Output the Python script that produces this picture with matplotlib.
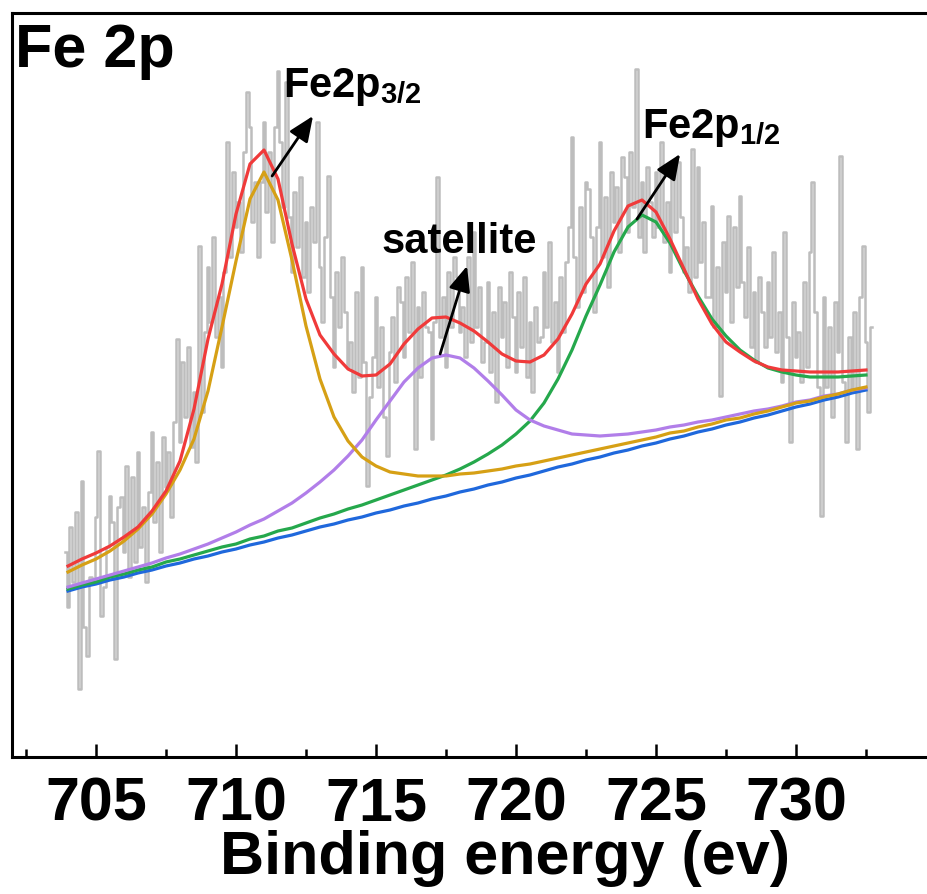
import numpy as np
import matplotlib
matplotlib.use('Agg')
import matplotlib.pyplot as plt
from matplotlib.ticker import FixedLocator

plt.rcParams['font.family'] = ['Liberation Sans', 'DejaVu Sans']
plt.rcParams['font.weight'] = 'bold'
plt.rcParams['mathtext.fontset'] = 'custom'
plt.rcParams['mathtext.rm'] = 'Liberation Sans:bold'
plt.rcParams['mathtext.it'] = 'Liberation Sans:bold'
plt.rcParams['mathtext.bf'] = 'Liberation Sans:bold'

# spektrum mentah (a.u.), langkah 0.1 eV mulai 703.9 eV
e_raw = np.round(703.9 + 0.1 * np.arange(289), 2)
raw = [205, 150, 230, 175, 245, 68, 276, 130, 101, 180,
       175, 240, 306, 141, 170, 210, 261, 235, 98, 250,
       260, 205, 291, 180, 280, 195, 305, 210, 250, 175,
       265, 325, 235, 295, 205, 320, 270, 305, 240, 335,
       418, 315, 395, 340, 410, 310, 365, 295, 511, 345,
       425, 490, 435, 520, 420, 460, 390, 485, 615, 500,
       585, 530, 555, 505, 605, 665, 630, 535, 575, 500,
       575, 635, 545, 605, 515, 630, 686, 615, 550, 675,
       540, 485, 565, 510, 580, 480, 535, 465, 550, 515,
       635, 490, 435, 520, 581, 460, 390, 485, 430, 500,
       445, 390, 415, 365, 465, 380, 490, 395, 271, 360,
       400, 460, 370, 430, 340, 301, 405, 440, 375, 470,
       455, 400, 480, 425, 495, 308, 450, 380, 465, 430,
       425, 318, 435, 580, 420, 460, 390, 485, 430, 500,
       480, 425, 450, 400, 500, 415, 525, 430, 470, 395,
       415, 475, 385, 445, 355, 470, 420, 455, 390, 485,
       440, 385, 465, 410, 480, 380, 435, 365, 450, 415,
       420, 485, 430, 515, 415, 455, 385, 480, 425, 495,
       530, 620, 500, 450, 550, 465, 575, 568, 520, 445,
       530, 615, 500, 560, 470, 585, 535, 570, 505, 600,
       580, 525, 605, 550, 688, 520, 575, 505, 590, 555,
       520, 585, 530, 615, 515, 555, 485, 580, 525, 595,
       540, 485, 510, 465, 608, 480, 590, 495, 535, 460,
       460, 551, 430, 490, 361, 515, 465, 541, 435, 530,
       470, 561, 475, 440, 510, 410, 465, 395, 480, 445,
       410, 475, 420, 505, 405, 445, 375, 525, 420, 315,
       455, 400, 425, 375, 475, 390, 505, 575, 445, 370,
       241, 460, 370, 430, 340, 455, 405, 601, 375, 315,
       420, 365, 445, 308, 460, 511, 415, 345, 430]

# hasil fitting, langkah 0.5 eV dari 704 sampai 732.5 eV
e_fit = np.arange(704.0, 732.51, 0.5)
background = np.array([166, 170, 173, 177, 180, 184, 187, 191, 194, 198,
                       201, 205, 208, 212, 215, 219, 222, 226, 230, 233,
                       237, 240, 244, 247, 251, 254, 258, 261, 265, 268,
                       272, 275, 279, 282, 286, 290, 293, 297, 300, 304,
                       307, 311, 314, 318, 321, 325, 328, 332, 335, 339,
                       342, 346, 350, 353, 357, 360, 364, 367])
# tinggi tiap komponen di atas background
p_32 = np.array([19, 22, 25, 29, 36, 44, 56, 72, 93, 120,
                 165, 225, 288, 346, 370, 338, 275, 205, 148, 107,
                 79, 60, 47, 38, 32, 27, 23, 20, 18, 16,
                 14, 13, 12, 11, 10, 9, 9, 8, 8, 7,
                 7, 6, 6, 6, 5, 5, 5, 5, 4, 4,
                 4, 4, 4, 3, 3, 3, 3, 3])
p_sat = np.array([4, 4, 5, 5, 6, 6, 7, 8, 9, 10,
                  12, 14, 17, 20, 23, 27, 32, 38, 45, 54,
                  64, 77, 93, 109, 124, 135, 141, 141, 134, 121,
                  104, 87, 68, 55, 45, 37, 30, 25, 21, 18,
                  16, 14, 13, 12, 11, 10, 9, 8, 8, 7,
                  6, 5, 5, 4, 4, 3, 3, 2])
p_12 = np.array([2, 2, 2, 3, 3, 3, 3, 4, 4, 4,
                 5, 5, 5, 6, 6, 7, 7, 8, 9, 10,
                 11, 12, 13, 15, 16, 18, 19, 21, 23, 27,
                 31, 37, 44, 54, 68, 88, 114, 144, 172, 201,
                 223, 231, 221, 196, 165, 136, 110, 89, 72, 58,
                 47, 39, 32, 27, 23, 20, 17, 15])
envelope = [191, 198, 204, 211, 220, 230, 246, 266, 296, 348,
            418, 473, 543, 593, 607, 578, 513, 458, 422, 403,
            388, 381, 382, 393, 413, 428, 439, 440, 434, 426,
            415, 403, 396, 395, 402, 418, 443, 473, 493, 526,
            551, 557, 545, 518, 488, 458, 433, 415, 405, 396,
            390, 387, 386, 385, 385, 385, 386, 387]

xticks = [705, 710, 715, 720, 725, 730]
xminor = [702.5, 707.5, 712.5, 717.5, 722.5, 727.5, 732.5]

fig = plt.figure(figsize=(9.27, 8.95), dpi=100)
# sumbu sengaja lebih lebar dari gambar (sisi kanan terpotong)
ax = fig.add_axes([12 / 927, 1 - 758 / 895, 952 / 927, 744 / 895])

ax.plot(e_raw, raw, color='#bdbdbd', lw=1.8, drawstyle='steps-mid', zorder=1)
ax.plot(e_fit, background, color='#1f68dc', lw=2.3, zorder=2)
ax.plot(e_fit, background + p_12, color='#25a84c', lw=2.3, zorder=3)
ax.plot(e_fit, background + p_sat, color='#b17ee9', lw=2.3, zorder=4)
ax.plot(e_fit, background + p_32, color='#d6a015', lw=2.3, zorder=5)
ax.plot(e_fit, envelope, color='#f03a3a', lw=2.3, zorder=6)

ax.set_xlim(702, 736)
ax.set_ylim(0, 744)
ax.set_yticks([])
ax.xaxis.set_major_locator(FixedLocator(xticks))
ax.xaxis.set_minor_locator(FixedLocator(xminor))
ax.tick_params(axis='x', which='major', direction='in', length=9.5, width=1.8,
               labelsize=44, pad=13)
ax.tick_params(axis='x', which='minor', direction='in', length=5.5, width=1.8)
for s in ax.spines.values():
    s.set_linewidth(2.2)

ax.set_xlabel('Binding energy (ev)', fontsize=44, fontweight='bold')
ax.xaxis.set_label_coords(505 / 927, 1 - 830 / 895, transform=fig.transFigure)

fig.text(15 / 927, 1 - 67 / 895, 'Fe 2p', fontsize=44, fontweight='bold', va='baseline')

arrow = dict(arrowstyle='-|>,head_length=0.7,head_width=0.3', color='black', lw=2,
             mutation_scale=22, shrinkA=0, shrinkB=0)
ax.annotate('', xy=(712.75, 641), xytext=(711.29, 581), arrowprops=arrow, zorder=7)
ax.annotate('', xy=(718.25, 491), xytext=(717.29, 403), arrowprops=arrow, zorder=7)
ax.annotate('', xy=(725.86, 603), xytext=(724.32, 538), arrowprops=arrow, zorder=7)

ax.text(711.68, 661, r'$\mathregular{Fe2p_{3/2}}$', fontsize=30, va='baseline', zorder=8)
ax.text(715.21, 505, 'satellite', fontsize=30, fontweight='bold', va='baseline', zorder=8)
ax.text(724.5, 620, r'$\mathregular{Fe2p_{1/2}}$', fontsize=30, va='baseline', zorder=8)

fig.savefig('out.png', dpi=100)
